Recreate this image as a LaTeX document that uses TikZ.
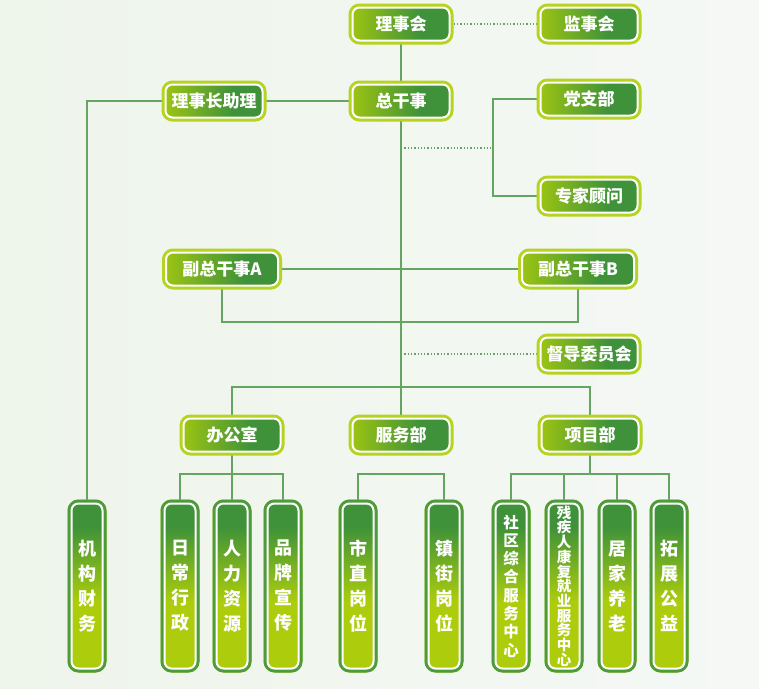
\documentclass[tikz,border=0pt]{standalone}
\usepackage{fontspec}
\newfontfamily\cjk{Noto Sans CJK SC}
\usetikzlibrary{positioning}
\definecolor{lgreen}{HTML}{ADCD0C}
\definecolor{dgreen}{HTML}{3F9239}
\definecolor{rim}{HTML}{B5D320}
\definecolor{vrim}{HTML}{4E9B3C}
\definecolor{wire}{HTML}{66A462}
\definecolor{bgA}{HTML}{EEF5EB}
\definecolor{bgB}{HTML}{F5F8F5}
\pgfdeclarehorizontalshading{hfade}{100bp}{color(0bp)=(lgreen); color(18bp)=(lgreen); color(60bp)=(dgreen); color(100bp)=(dgreen)}
\pgfdeclareverticalshading{vfade}{100bp}{color(0bp)=(lgreen); color(45bp)=(lgreen); color(68bp)=(dgreen); color(100bp)=(dgreen)}
\pgfdeclarelayer{back}
\pgfsetlayers{back,main}
\tikzset{
  every picture/.style={line join=round},
  box/.style={rectangle, rounded corners=7pt, minimum width=97pt, minimum height=33pt, inner sep=0pt,
    shading=hfade, draw=white, line width=2pt, preaction={draw=rim, line width=8pt},
    text=white, font=\cjk\bfseries\fontsize{17}{20}\selectfont},
  vbox/.style={box, minimum width=31pt, minimum height=165pt, shading=vfade,
    preaction={draw=vrim, line width=8pt}, align=center,
    font=\cjk\bfseries\fontsize{18}{25}\selectfont},
  wire/.style={draw=wire, line width=1.3pt},
  dots/.style={wire, dotted},
}

\begin{document}
\begin{tikzpicture}[x=1pt,y=-1pt]
\begin{pgfonlayer}{back}
\shade[left color=bgA, right color=bgB] (0,0) rectangle (759,688);
\end{pgfonlayer}
\useasboundingbox (0,0) rectangle (759,688);

% top levels
\node[box] (lsh) at (401,24) {理事会};
\node[box] (jsh) at (589,24) {监事会};
\node[box] (zl) at (214,101) {理事长助理};
\node[box] (zgs) at (401,101) {总干事};
\node[box] (dzb) at (589,99) {党支部};
\node[box] (zjgw) at (589,196) {专家顾问};
\node[box, minimum width=112pt] (fa) at (222,269) {副总干事A};
\node[box, minimum width=112pt] (fb) at (578,269) {副总干事B};
\node[box] (ddw) at (589,354) {督导委员会};
\node[box] (bgs) at (232,435) {办公室};
\node[box] (fwb) at (401,435) {服务部};
\node[box] (xmb) at (590,435) {项目部};

% columns
\node[vbox] (jgcw) at (87,586) {机\\构\\财\\务};
\node[vbox] (rcxz) at (180,586) {日\\常\\行\\政};
\node[vbox] (rlzy) at (232,586) {人\\力\\资\\源};
\node[vbox] (ppxc) at (283,586) {品\\牌\\宣\\传};
\node[vbox] (szgw) at (358,586) {市\\直\\岗\\位};
\node[vbox] (zjgw2) at (444,586) {镇\\街\\岗\\位};
\node[vbox, font=\cjk\bfseries\fontsize{15.5}{18.3}\selectfont] (sqzh) at (511,586) {社\\区\\综\\合\\服\\务\\中\\心};
\node[vbox, font=\cjk\bfseries\fontsize{14.5}{14.7}\selectfont] (cjr) at (564,586) {残\\疾\\人\\康\\复\\就\\业\\服\\务\\中\\心};
\node[vbox] (jjyl) at (617,586) {居\\家\\养\\老};
\node[vbox] (tzgy) at (669,586) {拓\\展\\公\\益};

\coordinate (c1) at (401,148);
\coordinate (br) at (493,148);
\coordinate (c3) at (401,322);
\coordinate (c4) at (401,354);
\coordinate (c5) at (401,387);
\coordinate (b1) at (232,474);
\coordinate (f1) at (401,474);
\coordinate (x1) at (590,474);

\begin{pgfonlayer}{back}
\draw[dots] (lsh) -- (jsh);
\draw[wire] (lsh) -- (zgs);
\draw[wire] (zgs) -- (fwb);
\draw[wire] (zl) -- (zgs);
\draw[wire] (zl) -| (jgcw);
\draw[dots] (c1) -- (br);
\draw[wire] (dzb) -| (br) |- (zjgw);
\draw[wire] (fa) -- (fb);
\draw[wire] (fa) |- (c3) -| (fb);
\draw[dots] (c4) -- (ddw);
\draw[wire] (bgs) |- (c5) -| (xmb);
\draw[wire] (bgs) -- (rlzy);
\draw[wire] (rcxz) |- (b1) -| (ppxc);
\draw[wire] (szgw) |- (f1) -| (zjgw2);
\draw[wire] (xmb) -- (x1);
\draw[wire] (sqzh) |- (x1) -| (tzgy);
\draw[wire] (cjr) -- (cjr |- x1);
\draw[wire] (jjyl) -- (jjyl |- x1);
\end{pgfonlayer}
\end{tikzpicture}
\end{document}
